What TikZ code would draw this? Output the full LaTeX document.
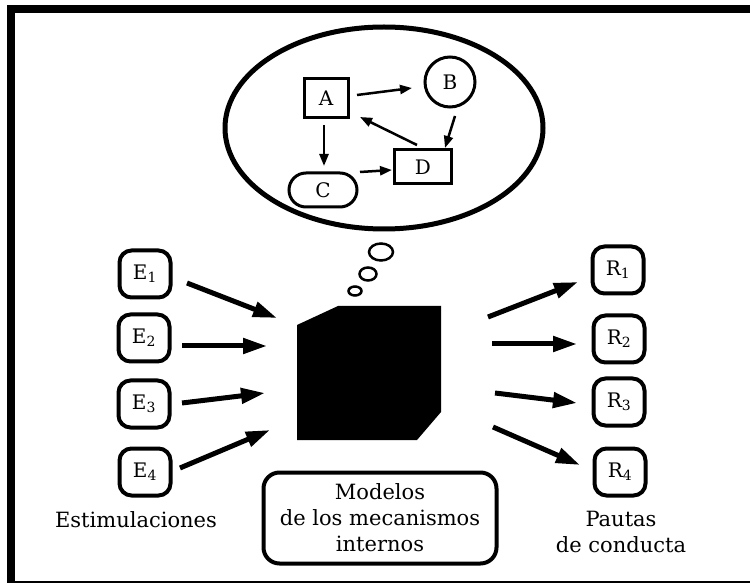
\documentclass[tikz,border=0pt]{standalone}
\usepackage{fontspec}
\setmainfont{DejaVu Serif}
\usetikzlibrary{arrows.meta,shapes.geometric}
\begin{document}
\begin{tikzpicture}[x=1pt,y=-1pt,
  ebox/.style={draw,line width=4pt,rounded corners=12pt,minimum width=51pt,minimum height=47pt,inner sep=0pt,font=\fontsize{20}{22}\selectfont},
  bigarrow/.style={line width=5pt,-{Triangle[length=24pt,width=15pt]}},
  smallarrow/.style={line width=2.5pt,-{Triangle[length=12pt,width=9pt]}},
  inner/.style={draw,line width=3pt,inner sep=0pt,font=\fontsize{20}{22}\selectfont},
  lbl/.style={align=center,inner sep=0pt,font=\fontsize{21}{26}\selectfont},
  bubble/.style={draw,line width=2.5pt,ellipse,inner sep=0pt}]
\useasboundingbox (0,0) rectangle (750,585);
% frame
\draw[line width=8pt] (750,9) -- (11,9) -- (11,583);
\draw[line width=2pt] (11,582) -- (750,582);
% thought ellipse
\node[draw,line width=5pt,ellipse,minimum width=318pt,minimum height=202pt] (th) at (384,128) {};
\node[inner,minimum width=44pt,minimum height=39pt] (A) at (326,98) {A};
\node[inner,circle,minimum size=50pt] (B) at (450,82) {B};
\node[inner,rounded corners=17pt,minimum width=68pt,minimum height=34pt] (C) at (323,190) {C};
\node[inner,minimum width=57pt,minimum height=34pt] (D) at (423,167) {D};
\coordinate (a1) at (357,95);
\coordinate (b1) at (412,88);
\coordinate (b2) at (455,116);
\coordinate (d2) at (445,148);
\coordinate (d3) at (417,145);
\coordinate (a3) at (360,117);
\coordinate (a4) at (324,125);
\coordinate (c4) at (324,166);
\coordinate (c5) at (360,172);
\coordinate (d5) at (392,170);
\draw[smallarrow] (a1) -- (b1);
\draw[smallarrow] (b2) -- (d2);
\draw[smallarrow] (d3) -- (a3);
\draw[smallarrow] (a4) -- (c4);
\draw[smallarrow] (c5) -- (d5);
% bubbles
\node[bubble,minimum width=24pt,minimum height=17pt] (t1) at (381,252) {};
\node[bubble,minimum width=17pt,minimum height=13pt] (t2) at (368,274) {};
\node[bubble,minimum width=13pt,minimum height=9pt] (t3) at (355,291) {};
% black box
\fill (297,325) -- (338,306) -- (441,306) -- (441,412) -- (417,440) -- (297,440) -- cycle;
% E nodes
\node[ebox] (E1) at (145,274) {E\textsubscript{1}};
\node[ebox] (E2) at (144,338) {E\textsubscript{2}};
\node[ebox] (E3) at (144,404) {E\textsubscript{3}};
\node[ebox] (E4) at (145,472) {E\textsubscript{4}};
\node[ebox] (R1) at (618,270) {R\textsubscript{1}};
\node[ebox] (R2) at (619,339) {R\textsubscript{2}};
\node[ebox] (R3) at (619,402) {R\textsubscript{3}};
\node[ebox] (R4) at (620,472) {R\textsubscript{4}};
\coordinate (se1) at (187,283);
\coordinate (se2) at (182,346);
\coordinate (se3) at (182,403);
\coordinate (se4) at (180,468);
\coordinate (ie1) at (277,318);
\coordinate (ie2) at (267,346);
\coordinate (ie3) at (265,393);
\coordinate (ie4) at (270,430);
\coordinate (or1) at (488,317);
\coordinate (or2) at (492,344);
\coordinate (or3) at (495,393);
\coordinate (or4) at (493,427);
\coordinate (er1) at (578,282);
\coordinate (er2) at (577,344);
\coordinate (er3) at (577,403);
\coordinate (er4) at (580,465);
\draw[bigarrow] (se1) -- (ie1);
\draw[bigarrow] (se2) -- (ie2);
\draw[bigarrow] (se3) -- (ie3);
\draw[bigarrow] (se4) -- (ie4);
\draw[bigarrow] (or1) -- (er1);
\draw[bigarrow] (or2) -- (er2);
\draw[bigarrow] (or3) -- (er3);
\draw[bigarrow] (or4) -- (er4);
% labels
\node[lbl] (est) at (136,520) {Estimulaciones};
\node[draw,line width=4pt,rounded corners=16pt,minimum width=233pt,minimum height=91pt,lbl] (mod) at (380,518) {Modelos\\de los mecanismos\\internos};
\node[lbl] (pau) at (621,532) {Pautas\\de conducta};
\end{tikzpicture}
\end{document}
